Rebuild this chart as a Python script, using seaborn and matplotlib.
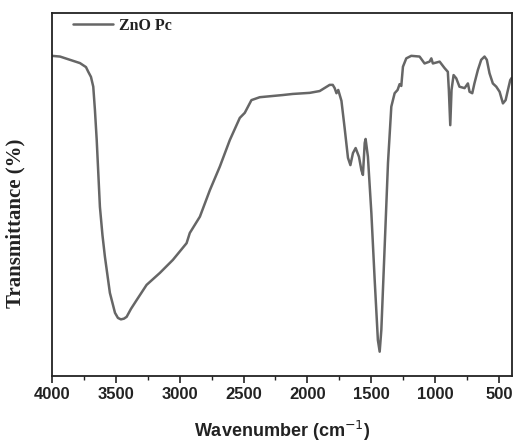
import matplotlib
matplotlib.use("Agg")
import matplotlib.pyplot as plt
from matplotlib.ticker import MultipleLocator
import numpy as np
import pandas as pd
import seaborn as sns

# FTIR spectrum of ZnO Pc (wavenumber in cm^-1, transmittance in arbitrary %)
wavenumber = [
    4000, 3935, 3857, 3779, 3732, 3714, 3693, 3675, 3662, 3648,
    3623, 3603, 3584, 3545, 3505, 3482, 3459, 3435, 3414, 3380,
    3336, 3258, 3154, 3052, 2945, 2920, 2841, 2763, 2685, 2607,
    2529, 2490, 2438, 2373, 2193, 2115, 1982, 1904, 1826, 1802,
    1787, 1773, 1759, 1734, 1709, 1683, 1664, 1644, 1623, 1597,
    1578, 1566, 1552, 1545, 1527, 1500, 1474, 1449, 1435, 1422,
    1396, 1370, 1344, 1318, 1295, 1279, 1266, 1253, 1227, 1188,
    1123, 1084, 1045, 1031, 1019, 966, 927, 902, 894, 883,
    873, 857, 836, 811, 771, 745, 732, 711, 694, 667,
    641, 615, 597, 576, 550, 523, 497, 471, 450, 432,
    414, 403,
]
transmittance = [
    88.2, 88.0, 87.1, 86.2, 85.1, 83.8, 82.4, 79.7, 73.3, 65.0,
    46.6, 38.8, 32.9, 22.9, 17.4, 16.0, 15.6, 15.8, 16.3, 18.5,
    20.9, 25.1, 28.4, 32.0, 36.6, 39.4, 43.9, 51.2, 57.7, 65.0,
    71.1, 72.5, 76.0, 76.8, 77.4, 77.7, 78.0, 78.5, 80.2, 80.2,
    79.3, 77.9, 78.8, 75.8, 68.3, 60.1, 58.1, 61.4, 62.8, 60.4,
    56.7, 55.4, 64.2, 65.3, 60.4, 44.9, 26.4, 9.9, 6.7, 12.7,
    35.6, 58.7, 74.2, 77.9, 78.8, 80.4, 79.9, 85.2, 87.5, 88.2,
    88.0, 86.1, 86.6, 87.5, 86.1, 86.6, 84.8, 83.8, 78.8, 69.1,
    78.8, 82.9, 82.0, 79.7, 79.3, 80.6, 78.3, 77.9, 80.6, 84.3,
    87.1, 88.0, 87.1, 83.4, 80.6, 79.7, 78.3, 75.1, 76.0, 78.8,
    81.5, 82.1,
]
series_label = "ZnO Pc"
x_ticks = [4000, 3500, 3000, 2500, 2000, 1500, 1000, 500]

df = pd.DataFrame({"Wavenumber": wavenumber, "T": transmittance})

sns.set_theme(style="ticks")
plt.rcParams["mathtext.fontset"] = "custom"
plt.rcParams["mathtext.rm"] = "Liberation Sans:bold"
plt.rcParams["mathtext.default"] = "rm"

fig = plt.figure(figsize=(5.15, 4.42), dpi=100)
ax = fig.add_axes([0.1004, 0.1493, 0.8938, 0.8213])

sns.lineplot(data=df, x="Wavenumber", y="T", ax=ax, color="#666666",
             linewidth=1.8, label=series_label, sort=False)

ax.set_xlim(4000, 400)
ax.set_ylim(0, 100)
ax.set_xticks(x_ticks)
ax.set_xticklabels([str(t) for t in x_ticks], fontfamily="Liberation Sans",
                   fontweight="bold", fontsize=12, color="#222222")
ax.xaxis.set_minor_locator(MultipleLocator(250))
ax.tick_params(axis="x", which="major", direction="out", length=5, width=1.2,
               color="#222222", pad=3)
ax.tick_params(axis="x", which="minor", direction="out", length=3, width=1.0,
               color="#222222")
ax.set_yticks([])

for side in ["left", "right", "top", "bottom"]:
    ax.spines[side].set_visible(True)
    ax.spines[side].set_linewidth(1.3)
    ax.spines[side].set_color("#222222")

ax.set_xlabel("Wavenumber (cm$^{\\mathsf{-1}}$)", fontfamily="Liberation Sans",
              fontweight="bold", fontsize=13, color="#222222", labelpad=12)
ax.set_ylabel("Transmittance (%)", fontfamily="Liberation Serif",
              fontweight="bold", fontsize=15, color="#222222")
ax.yaxis.set_label_coords(-0.056, 0.42)

leg = ax.legend(loc="upper left", bbox_to_anchor=(0.015, 1.027), frameon=False,
                handlelength=2.5, handletextpad=0.4,
                prop={"family": "Liberation Serif", "weight": "bold", "size": 11.5})
for t in leg.get_texts():
    t.set_color("#222222")

fig.savefig("out.png", dpi=100)
